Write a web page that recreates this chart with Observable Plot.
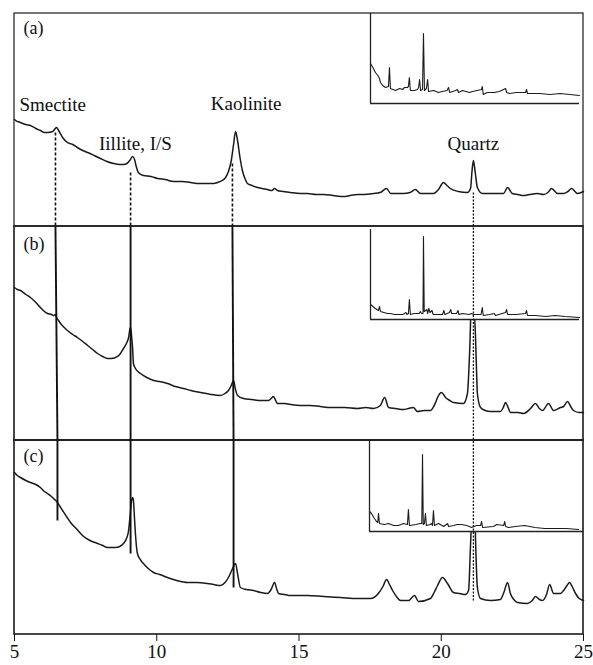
<!DOCTYPE html>
<html>
<head>
<meta charset="utf-8">
<script src="https://cdn.jsdelivr.net/npm/d3@7"></script>
<script src="https://cdn.jsdelivr.net/npm/@observablehq/plot@0.6"></script>
<style>
  body { margin: 0; background: #fff; }
  #chart { position: relative; width: 593px; height: 665px; }
  #chart > svg { position: absolute; }
  #chart svg text { font-family: "Liberation Serif", "Times New Roman", serif; }
</style>
</head>
<body>
<div id="chart"></div>
<script>
// ---------------- DATA (2θ in degrees, intensity in arbitrary units) ----------------
const panelNames = ["(a)", "(b)", "(c)"];
const minerals = ["Smectite", "Iillite, I/S", "Kaolinite", "Quartz"];
const mineralPeak2Theta = [6.45, 9.08, 12.68, 21.13];
const xTicks = [5, 10, 15, 20, 25];

const curveA = [[5.00,107],[5.04,106],[5.21,104],[5.40,102],[5.56,101],[5.75,98],[5.91,96],[6.05,94],[6.16,94],[6.34,95],[6.48,99],[6.55,96],[6.69,89],[6.86,84],[7.05,82],[7.21,79],[7.40,76],[7.57,74],[7.80,71],[8.02,68],[8.25,65],[8.48,63],[8.70,62],[8.83,62],[8.95,63],[9.05,66],[9.15,70],[9.22,67],[9.28,60],[9.35,54],[9.53,51],[9.80,50],[10.03,48],[10.30,47],[10.59,45],[10.90,45],[11.19,44],[11.50,43],[11.78,43],[12.00,43],[12.14,44],[12.30,46],[12.42,49],[12.52,55],[12.62,66],[12.70,82],[12.77,95],[12.84,86],[12.92,70],[13.01,56],[13.10,48],[13.19,43],[13.35,41],[13.54,39],[13.70,38],[13.89,37],[14.05,36],[14.14,38],[14.24,36],[14.45,35],[14.70,34],[15.05,33],[15.30,33],[15.60,32],[15.86,32],[16.20,31],[16.56,30],[16.80,31],[17.06,32],[17.30,32],[17.62,33],[17.85,34],[18.08,38],[18.22,33],[18.45,33],[18.67,33],[18.90,34],[19.09,37],[19.27,33],[19.50,33],[19.73,33],[19.90,37],[20.08,44],[20.20,41],[20.32,38],[20.60,35],[20.92,34],[21.03,38],[21.08,55],[21.13,66],[21.19,55],[21.27,39],[21.45,33],[21.84,33],[22.19,33],[22.33,39],[22.50,33],[22.70,32],[22.89,31],[23.10,32],[23.38,33],[23.59,32],[23.75,34],[23.88,38],[24.09,33],[24.30,33],[24.45,35],[24.58,38],[24.79,33],[25.00,35]];

const curveB = [[5.00,153],[5.10,151],[5.21,150],[5.40,146],[5.56,143],[5.75,138],[5.91,133],[6.05,129],[6.16,127],[6.30,126],[6.37,125],[6.44,126],[6.48,123],[6.55,120],[6.62,117],[6.75,113],[6.86,110],[7.05,106],[7.21,103],[7.40,99],[7.57,95],[7.75,91],[7.92,87],[8.10,84],[8.27,82],[8.40,82],[8.55,83],[8.70,86],[8.83,92],[8.95,98],[9.01,103],[9.06,112],[9.08,113],[9.12,103],[9.15,93],[9.18,77],[9.25,72],[9.43,67],[9.65,63],[9.89,60],[10.10,59],[10.38,57],[10.65,54],[10.94,52],[11.20,50],[11.54,48],[11.90,46],[12.24,45],[12.40,47],[12.52,50],[12.62,55],[12.70,60],[12.76,52],[12.84,45],[13.05,42],[13.35,41],[13.65,40],[13.93,40],[14.02,42],[14.10,44],[14.18,40],[14.24,37],[14.50,37],[14.70,36],[15.05,35],[15.40,35],[15.75,34],[16.11,33],[16.60,33],[17.06,32],[17.35,33],[17.62,32],[17.86,35],[18.01,43],[18.15,33],[18.40,32],[18.67,31],[18.85,32],[19.02,33],[19.16,29],[19.40,30],[19.62,30],[19.80,38],[19.87,43],[20.01,48],[20.15,43],[20.30,40],[20.43,38],[20.78,37],[20.92,47],[21.00,90],[21.05,130],[21.13,135],[21.20,107],[21.24,70],[21.27,47],[21.38,33],[21.55,30],[21.73,29],[22.08,29],[22.18,33],[22.26,38],[22.35,33],[22.43,28],[22.70,28],[22.89,27],[23.14,32],[23.31,37],[23.45,32],[23.56,30],[23.77,37],[23.95,30],[24.19,33],[24.30,34],[24.44,39],[24.55,34],[24.65,30],[24.85,28],[25.00,28]];

const curveC = [[5.00,162],[5.10,159],[5.21,157],[5.40,154],[5.56,152],[5.75,150],[5.91,147],[6.05,143],[6.16,141],[6.30,138],[6.37,136],[6.45,134],[6.51,132],[6.60,128],[6.69,124],[6.85,117],[6.97,112],[7.20,105],[7.43,98],[7.65,94],[7.92,91],[8.10,89],[8.27,87],[8.40,87],[8.55,87],[8.70,88],[8.83,91],[8.95,97],[9.01,104],[9.05,115],[9.08,124],[9.12,135],[9.15,137],[9.18,134],[9.22,115],[9.25,101],[9.32,81],[9.42,75],[9.53,71],[9.70,66],[9.89,62],[10.10,60],[10.38,57],[10.70,54],[11.08,52],[11.40,52],[11.78,51],[12.00,50],[12.24,49],[12.40,52],[12.52,57],[12.65,65],[12.77,71],[12.84,61],[12.94,47],[13.15,45],[13.40,44],[13.65,42],[13.89,41],[14.02,45],[14.14,52],[14.22,45],[14.28,41],[14.50,40],[14.70,39],[15.05,39],[15.30,39],[15.86,38],[16.46,37],[17.06,36],[17.51,36],[17.79,41],[17.95,48],[18.08,55],[18.18,50],[18.29,44],[18.45,37],[18.57,34],[18.85,34],[19.06,39],[19.20,33],[19.62,36],[19.75,42],[19.87,49],[20.04,57],[20.22,51],[20.43,42],[20.65,41],[20.85,40],[20.96,44],[21.03,90],[21.10,130],[21.17,128],[21.22,80],[21.27,47],[21.38,36],[21.73,34],[22.08,35],[22.20,42],[22.33,52],[22.43,41],[22.55,35],[22.68,32],[23.03,31],[23.20,34],[23.31,38],[23.45,35],[23.56,34],[23.70,40],[23.81,50],[23.95,41],[24.19,41],[24.30,44],[24.42,49],[24.51,52],[24.60,48],[24.72,41],[24.85,36],[25.00,34]];

// full-range patterns shown in the insets
const insetA = [[4.0,40],[5.0,36],[6.0,31],[7.0,28],[7.7,25],[8.1,21],[9.0,18],[10.2,16],[11.4,17],[11.8,36],[12.2,15],[14.3,13],[16.0,15],[17.2,14],[18.0,16],[19.2,16],[19.6,17],[20.0,26],[20.4,13],[22.0,13],[23.3,14],[23.8,16],[24.2,24],[24.6,13],[25.4,14],[25.8,70],[26.2,13],[27.0,15],[27.5,24],[27.9,12],[30.0,13],[32.0,11],[33.6,12],[35.5,13],[36.1,16],[36.6,11],[39.0,13],[39.8,14],[40.2,11],[41.9,13],[44.7,11],[46.0,12],[49.7,14],[50.0,17],[50.4,9],[52.0,11],[55.0,11],[57.0,12],[59.6,15],[60.0,11],[61.2,10],[64.0,11],[67.8,11],[68.2,14],[68.6,10],[73.5,10],[78,9],[82,10],[86,9],[90,8]];

const insetB = [[4.0,15],[5.0,13],[6.0,11],[7.3,9],[7.7,13],[8.1,8],[9.5,7],[11,6],[12,6],[14,5],[16,5],[17.2,5],[18.0,6],[18.6,7],[19.0,5],[19.6,6],[20.0,20],[20.4,5],[22,6],[24.0,6],[24.5,8],[25.0,6],[25.6,6],[25.8,83],[26.1,8],[26.8,9],[27.2,10],[27.5,6],[28.0,11],[28.5,7],[29.3,9],[29.8,5],[31,5],[33.6,5],[34.2,9],[34.6,5],[36.5,7],[37.0,10],[37.4,6],[39.4,6],[40.0,9],[40.4,5],[42,6],[44.5,5],[45.5,6],[46.4,5],[49.5,5],[50.0,12],[50.4,4],[53,5],[55.0,6],[55.4,4],[59.6,7],[60.0,10],[60.4,5],[64,5],[67.8,6],[68.2,9],[68.6,4],[72,4],[76,3],[80,4],[84,3],[90,2]];

const insetC = [[4.0,20],[4.8,18],[6.0,13],[6.9,10],[7.4,9],[7.7,18],[8.1,8],[10.2,7],[11.8,8],[14,6],[15.9,6],[18.0,8],[19.6,7],[20.0,22],[20.4,6],[23.3,7],[24.6,8],[25.5,8],[25.8,77],[26.1,7],[26.6,8],[27.0,18],[27.4,6],[29.0,7],[29.5,8],[29.9,6],[30.3,21],[30.7,6],[32.4,8],[34.5,5],[36.1,8],[36.5,5],[38.6,6],[40,7],[41.9,7],[44,6],[46.0,4],[48.0,6],[49.7,6],[50.1,10],[50.5,4],[55.0,5],[56.3,7],[59.2,6],[59.6,10],[60.0,5],[61.2,4],[64,5],[67.8,6],[72,4],[76.0,3],[80,3],[85,3],[90,2]];

// ---------------- LAYOUT ----------------
const W = 593, H = 665;
const M = {top: 13, right: 10, bottom: 31, left: 14};
// stacked panels: base offset and height in intensity units
const panels = [
  {name: panelNames[0], base: 408, top: 621, curve: curveA},
  {name: panelNames[1], base: 194, top: 408, curve: curveB},
  {name: panelNames[2], base: 0,   top: 194, curve: curveC}
];
const FONT = "Liberation Serif";

const rows = panels.flatMap(p => p.curve.map(([x, v]) => ({x, y: v + p.base, panel: p.name})));

const panelLabelRows = panels.map((p, i) => ({x: 5.32, y: [606, 390, 178][i], text: p.name}));
const mineralLabelRows = [
  {x: 6.34, y: 529.5, text: minerals[0]},
  {x: 9.25, y: 491, text: minerals[1]},
  {x: 13.14, y: 531, text: minerals[2]},
  {x: 21.13, y: 491, text: minerals[3]}
];

// reference lines linking peaks through the panels
const [xS, xI, xK, xQ] = mineralPeak2Theta;
const dashedLinks = [
  {x1: xS - 0.01, y1: 502, x2: xS - 0.01, y2: 408},
  {x1: xI, y1: 462, x2: xI, y2: 408},
  {x1: xK - 0.02, y1: 471, x2: xK - 0.02, y2: 408}
];
const solidLinks = [
  {x1: xS - 0.01, y1: 408, x2: xS + 0.06, y2: 194},
  {x1: xI, y1: 408, x2: xI, y2: 194},
  {x1: xK - 0.02, y1: 408, x2: xK + 0.02, y2: 194},
  {x1: xS + 0.06, y1: 194, x2: xS + 0.06, y2: 114},
  {x1: xI, y1: 194, x2: xI, y2: 81},
  {x1: xK + 0.02, y1: 194, x2: xK + 0.02, y2: 47}
];
const quartzLink = [{x1: xQ, y1: 442, x2: xQ, y2: 34}];

function layer(marks) {
  return Plot.plot({
    width: W, height: H,
    marginTop: M.top, marginRight: M.right, marginBottom: M.bottom, marginLeft: M.left,
    x: {domain: [5, 25], axis: null, label: null},
    y: {domain: [0, 621], axis: null, label: null},
    style: {fontFamily: FONT, background: "transparent", overflow: "visible", color: "#111"},
    marks
  });
}

const base = layer([
  Plot.line(rows, {x: "x", y: "y", z: "panel", curve: "monotone-x", stroke: "#1a1a1a", strokeWidth: 1.5}),
  Plot.text(panelLabelRows, {x: "x", y: "y", text: "text", textAnchor: "start", fontSize: 18, fontFamily: FONT, fill: "#111"}),
  Plot.text(mineralLabelRows, {x: "x", y: "y", text: "text", textAnchor: "middle", fontSize: 19, fontFamily: FONT, fill: "#111"}),
  Plot.axisX({ticks: xTicks, label: null, tickSize: 7, tickPadding: 3, fontSize: 19, fontFamily: FONT, anchor: "bottom", stroke: "#111", fill: "#111"})
]);

function insetPlot(pts, w, h, mr, domainMax) {
  return Plot.plot({
    width: w, height: h,
    marginTop: 0, marginRight: mr, marginBottom: 1, marginLeft: 1,
    x: {domain: [4, domainMax], axis: null},
    y: {domain: [0, h - 1], axis: null},
    style: {background: "white", overflow: "visible"},
    marks: [
      Plot.line(pts, {x: d => d[0], y: d => d[1], stroke: "#1c1c1c", strokeWidth: 1.1}),
      Plot.ruleX([4], {stroke: "#222", strokeWidth: 1.3}),
      Plot.ruleY([0], {stroke: "#222", strokeWidth: 1.3})
    ]
  });
}

const overlay = layer([
  Plot.rect(panels, {x1: 5, x2: 25, y1: "base", y2: "top", fill: "none", stroke: "#1a1a1a", strokeWidth: (d, i) => i === 0 ? 1.2 : 1.6}),
  Plot.link(dashedLinks, {x1: "x1", y1: "y1", x2: "x2", y2: "y2", stroke: "#111", strokeWidth: 1.6, strokeDasharray: "3,2"}),
  Plot.link(solidLinks, {x1: "x1", y1: "y1", x2: "x2", y2: "y2", stroke: "#111", strokeWidth: 1.9}),
  Plot.link(quartzLink, {x1: "x1", y1: "y1", x2: "x2", y2: "y2", stroke: "#111", strokeWidth: 1.3, strokeDasharray: "2,1.5"})
]);

const chart = document.getElementById("chart");
base.style.left = "0px"; base.style.top = "0px";
chart.appendChild(base);

const insets = [
  {svg: insetPlot(insetA, 214, 91, 4, 90), left: 369, top: 13},
  {svg: insetPlot(insetB, 214, 91, 4, 90), left: 369, top: 229},
  {svg: insetPlot(insetC, 215, 92, 0, 92), left: 368, top: 440}
];
for (const ins of insets) {
  ins.svg.style.left = ins.left + "px";
  ins.svg.style.top = ins.top + "px";
  chart.appendChild(ins.svg);
}
overlay.style.left = "0px"; overlay.style.top = "0px";
overlay.style.pointerEvents = "none";
chart.appendChild(overlay);
</script>
</body>
</html>
